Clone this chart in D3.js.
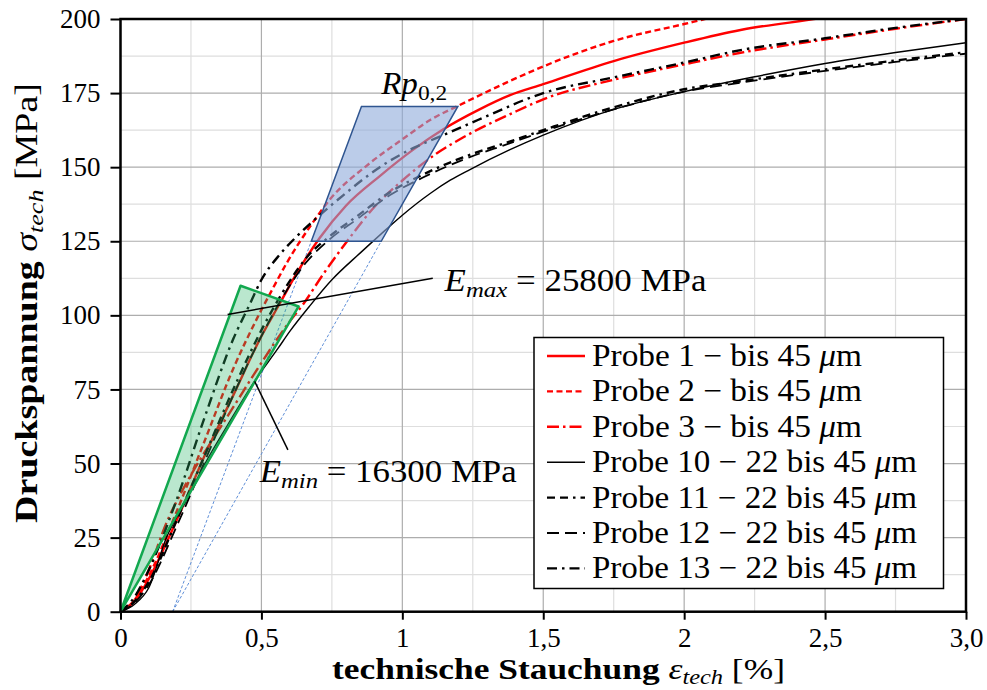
<!DOCTYPE html>
<html lang="de">
<head>
  <meta charset="UTF-8">
  <title>Druckversuch</title>
  <script src="https://d3js.org/d3.v7.min.js"></script>
  <style>
    body { margin: 0; background: #fff; }
    text { font-family: "Liberation Serif", "Times New Roman", serif; fill: #000; }
  </style>
</head>
<body>
<div class="main"></div>
<script>

  // curves: [strain in %, stress in MPa]
  var probe1 = [[0,0],[0.05,3.5],[0.1,11],[0.2,31],[0.3,53],[0.4,73],[0.5,93],[0.565,104],[0.624,114],[0.706,126],[0.8,137],[0.92,147],[1.04,156],[1.144,162.7],[1.274,169.5],[1.38,174.2],[1.5,178],[1.75,185.8],[2.0,192],[2.2,196.3],[2.48,200.2],[2.6,202]];
  var probe2 = [[0,0],[0.05,4],[0.1,12],[0.2,34],[0.3,58],[0.4,82],[0.49,100],[0.54,109],[0.59,117.7],[0.68,131],[0.742,139],[0.88,151],[1.0,159.4],[1.1,166],[1.2,170.8],[1.38,179],[1.5,184],[1.75,192.6],[2.0,198.3],[2.1,200.5],[2.2,202]];
  var probe3 = [[0,0],[0.05,4],[0.1,14],[0.163,30],[0.22,41],[0.28,51],[0.34,60],[0.4,69],[0.5,84],[0.589,96.5],[0.65,104],[0.72,114],[0.8,124.5],[0.9,136.5],[1.0,145.5],[1.12,154.5],[1.215,160],[1.274,163],[1.38,167.8],[1.5,172.9],[1.75,179.5],[2.0,184.7],[2.2,188.6],[2.5,193.1],[2.75,196.7],[3.0,200]];
  var probe10 = [[0,0],[0.05,2.5],[0.1,8],[0.163,25],[0.234,37.7],[0.3,50],[0.38,63],[0.47,77],[0.56,89],[0.6,94.5],[0.67,103],[0.75,112],[0.85,121],[0.925,127.5],[1.0,133.8],[1.1,141.2],[1.17,145.6],[1.24,149.2],[1.38,155.8],[1.5,160.8],[1.75,169.5],[2.0,175.5],[2.25,180.5],[2.5,185],[2.75,188.7],[3.0,192]];
  var probe11 = [[0,0],[0.05,3.5],[0.1,10],[0.2,31],[0.3,53],[0.4,75],[0.5,95],[0.59,110],[0.66,119.5],[0.74,126.5],[0.84,133.5],[0.955,141.5],[1.073,147.5],[1.215,153.3],[1.38,158.6],[1.5,162.5],[1.75,170.2],[2.0,176.3],[2.2,179],[2.5,183],[2.75,186],[3.0,188.8]];
  var probe12 = [[0,0],[0.05,3],[0.1,9],[0.2,29],[0.3,51],[0.4,73],[0.5,93],[0.59,108.5],[0.66,118],[0.74,125.5],[0.84,132.5],[0.955,140.5],[1.073,146.5],[1.215,152.5],[1.38,158],[1.5,162],[1.75,169.5],[2.0,175.5],[2.2,178.5],[2.5,182.5],[2.75,185.5],[3.0,188.3]];
  var probe13 = [[0,0],[0.05,5],[0.1,14],[0.2,38],[0.3,66],[0.4,92],[0.46,104],[0.5,112],[0.565,120.5],[0.624,126.5],[0.68,131.5],[0.79,140.5],[0.92,150],[1.04,156.5],[1.12,159.8],[1.27,166],[1.5,175],[1.75,180.3],[2.0,185.3],[2.2,189.5],[2.5,193.5],[2.75,197],[3.0,200]];

  var legendLabels = ["Probe 1", "Probe 2", "Probe 3", "Probe 10", "Probe 11", "Probe 12", "Probe 13"];
  var legendSizes = ["bis 45 ", "bis 45 ", "bis 45 ", "22 bis 45 ", "22 bis 45 ", "22 bis 45 ", "22 bis 45 "];

  var xTickValues = [0, 0.5, 1, 1.5, 2, 2.5, 3];
  var xTickLabels = ["0", "0,5", "1", "1,5", "2", "2,5", "3,0"];
  var yTickValues = [0, 25, 50, 75, 100, 125, 150, 175, 200];

  // E-modulus fan, Rp0,2 box and helper lines (data units)
  var fanPoints = [[0,0],[0.426,110],[0.632,103]];
  var rpBox = [[0.677,125],[0.925,125],[1.197,170.5],[0.855,170.5]];
  var offsetLines = [[[0.185,0],[0.677,125]], [[0.185,0],[0.925,125]]];
  var emaxLeader = [[0.38,100.3],[1.108,112.5]];
  var eminLeader = [[0.476,77.7],[0.594,54.6]];
  var emaxValue = "25800", eminValue = "16300";

  var width = 987, height = 690;

  var series = [
    {data: probe1,  color: "#ff0000", dash: null,             w: 2.4},
    {data: probe2,  color: "#ff0000", dash: "6,3.5",          w: 2.4},
    {data: probe3,  color: "#ff0000", dash: "12,4,2.5,4",     w: 2.4},
    {data: probe10, color: "#000000", dash: null,             w: 1.4},
    {data: probe11, color: "#000000", dash: "8,5,8,5,2.5,5",  w: 2.4},
    {data: probe12, color: "#000000", dash: "12,6",           w: 1.8},
    {data: probe13, color: "#000000", dash: "10,5,2.5,5",     w: 2.4}
  ];

  var svg = d3.select(".main").append("svg")
          .attr("width", width)
          .attr("height", height)
          .style("display", "block");

  var x = d3.scaleLinear().domain([0, 3]).range([120.5, 966]);
  var y = d3.scaleLinear().domain([0, 200]).range([611.7, 19]);

  // grid
  var grid = svg.append("g");
  grid.selectAll(".vminor").data(d3.range(0.25, 3, 0.5)).join("line")
          .attr("x1", d => x(d)).attr("x2", d => x(d)).attr("y1", y(0)).attr("y2", y(200))
          .style("stroke", "#dedede").style("stroke-width", 1.2);
  grid.selectAll(".hminor").data(d3.range(12.5, 200, 25)).join("line")
          .attr("y1", d => y(d)).attr("y2", d => y(d)).attr("x1", x(0)).attr("x2", x(3))
          .style("stroke", "#dedede").style("stroke-width", 1.2);
  grid.selectAll(".vmajor").data(xTickValues).join("line")
          .attr("x1", d => x(d)).attr("x2", d => x(d)).attr("y1", y(0)).attr("y2", y(200))
          .style("stroke", "#adadad").style("stroke-width", 1.2);
  grid.selectAll(".hmajor").data(yTickValues).join("line")
          .attr("y1", d => y(d)).attr("y2", d => y(d)).attr("x1", x(0)).attr("x2", x(3))
          .style("stroke", "#adadad").style("stroke-width", 1.2);

  svg.append("clipPath").attr("id", "plotClip").append("rect")
          .attr("x", x(0)).attr("y", y(200)).attr("width", x(3) - x(0)).attr("height", y(0) - y(200));

  var toPath = d3.line().x(d => x(d[0])).y(d => y(d[1]));
  var smooth = d3.line().x(d => x(d[0])).y(d => y(d[1])).curve(d3.curveMonotoneX);

  // thin blue offset lines
  svg.append("g").selectAll("path").data(offsetLines).join("path")
          .attr("d", toPath)
          .style("fill", "none").style("stroke", "#5f8fd8").style("stroke-width", 1)
          .style("stroke-dasharray", "3,2");

  // curves
  var curves = svg.append("g").attr("clip-path", "url(#plotClip)");
  curves.selectAll("path").data(series).join("path")
          .attr("d", d => smooth(d.data))
          .style("fill", "none")
          .style("stroke", d => d.color)
          .style("stroke-width", d => d.w)
          .style("stroke-dasharray", d => d.dash);

  // E fan
  svg.append("path")
          .attr("d", toPath(fanPoints) + "Z")
          .style("fill", "#2fb56a").style("fill-opacity", 0.33)
          .style("stroke", "#12a84f").style("stroke-width", 2.5).style("stroke-linejoin", "round");

  // Rp0,2 box
  svg.append("path")
          .attr("d", toPath(rpBox) + "Z")
          .style("fill", "#8eaadb").style("fill-opacity", 0.6)
          .style("stroke", "#2f5590").style("stroke-width", 1.5);

  // leader lines
  svg.append("path").attr("d", toPath(emaxLeader)).style("stroke", "#000").style("stroke-width", 1.5);
  svg.append("path").attr("d", toPath(eminLeader)).style("stroke", "#000").style("stroke-width", 1.5);

  // axes
  var xAxis = d3.axisBottom(x).tickValues(xTickValues)
          .tickFormat((d, i) => xTickLabels[i]).tickSize(8).tickPadding(8);
  var yAxis = d3.axisLeft(y).tickValues(yTickValues).tickSize(10).tickPadding(10);

  function drawAxis(axis, translate){
    var g = svg.append("g").attr("transform", translate).call(axis);
    g.select(".domain").remove();
    g.selectAll("line").style("stroke", "#000").style("stroke-width", 2);
    g.selectAll("text").style("font-family", "Liberation Serif").style("font-size", "27px");
    return g;
  }
  drawAxis(xAxis, `translate(0, ${y(0)})`);
  drawAxis(yAxis, `translate(${x(0)}, 0)`);

  svg.append("rect")
          .attr("x", x(0)).attr("y", y(200)).attr("width", x(3) - x(0)).attr("height", y(0) - y(200))
          .style("fill", "none").style("stroke", "#000").style("stroke-width", 2.5);

  // squeeze or stretch a text to a given length
  function fitText(t, px, py, rot, target){
    var w = t.node().getComputedTextLength();
    t.attr("transform", `translate(${px},${py}) rotate(${rot}) scale(${target / w},1)`);
  }

  // axis titles
  var xl = svg.append("text").attr("text-anchor", "middle").style("font-size", "29px");
  xl.append("tspan").style("font-weight", "bold").text("technische Stauchung ");
  xl.append("tspan").style("font-style", "italic").text("ε");
  xl.append("tspan").style("font-style", "italic").style("font-size", "20px").attr("dy", 5).text("tech");
  xl.append("tspan").attr("dy", -5).text(" [%]");
  fitText(xl, 558.5, 679, 0, 453);

  var yl = svg.append("text").attr("text-anchor", "middle").style("font-size", "32px");
  yl.append("tspan").style("font-weight", "bold").text("Druckspannung ");
  yl.append("tspan").style("font-style", "italic").text("σ");
  yl.append("tspan").style("font-style", "italic").style("font-size", "22px").attr("dy", 6).text("tech");
  yl.append("tspan").attr("dy", -6).text(" [MPa]");
  fitText(yl, 37, 303, -90, 440);

  // annotations
  function modulusLabel(sub, value, at, target){
    var t = svg.append("text").style("font-size", "31px");
    t.append("tspan").style("font-style", "italic").text("E");
    t.append("tspan").style("font-style", "italic").style("font-size", "22px").attr("dy", 6).text(sub);
    t.append("tspan").attr("dy", -6).text(" = " + value + " MPa");
    fitText(t, x(at[0]), y(at[1]), 0, target);
  }
  modulusLabel("max", emaxValue, [1.15, 108.1], 262);
  modulusLabel("min", eminValue, [0.494, 43.9], 257);

  var rp = svg.append("text").style("font-size", "31px");
  rp.append("tspan").style("font-style", "italic").text("Rp");
  rp.append("tspan").style("font-size", "22px").attr("dy", 6).text("0,2");
  fitText(rp, x(0.925), y(174.6), 0, 66);

  // legend
  var legend = svg.append("g");
  legend.append("rect")
          .attr("x", 534).attr("y", 337.5).attr("width", 409.5).attr("height", 251)
          .style("fill", "#fff").style("stroke", "#000").style("stroke-width", 1.5);

  series.forEach(function(s, i){
    var by = 366 + i * 35.4;
    legend.append("line")
            .attr("x1", 547).attr("x2", 585).attr("y1", by - 10).attr("y2", by - 10)
            .style("stroke", s.color).style("stroke-width", s.w)
            .style("stroke-dasharray", s.dash);
    var t = legend.append("text").style("font-size", "31px");
    t.append("tspan").text(legendLabels[i] + " − " + legendSizes[i]);
    t.append("tspan").style("font-style", "italic").text("μ");
    t.append("tspan").text("m");
    fitText(t, 592, by, 0, i < 3 ? 270 : 325);
  });

</script>
</body>
</html>
